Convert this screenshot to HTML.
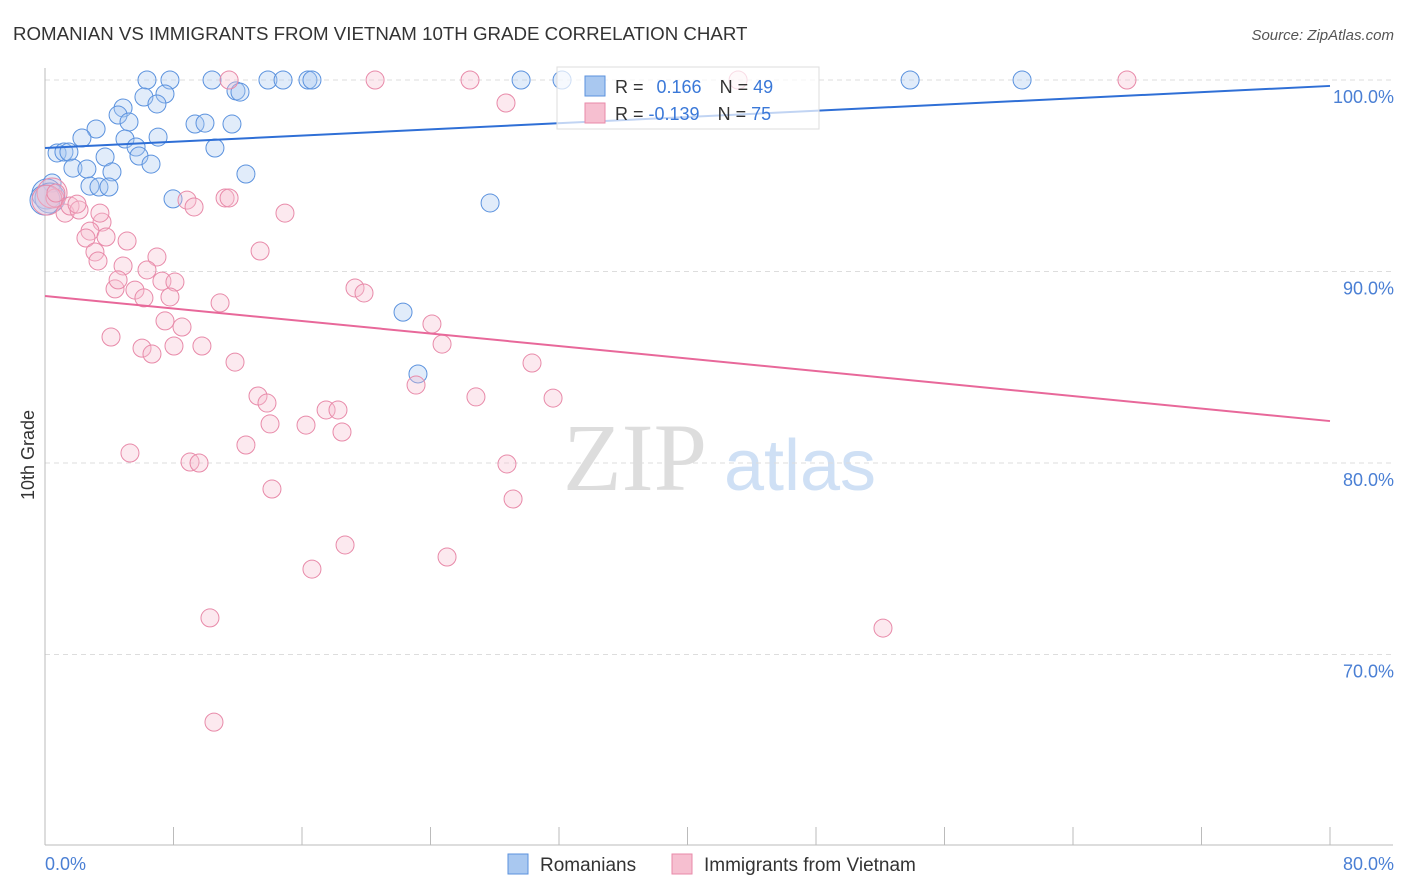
<!DOCTYPE html>
<html><head><meta charset="utf-8"><style>
body{margin:0;background:#fff;font-family:"Liberation Sans",sans-serif}
svg{display:block}
</style></head><body>
<svg width="1406" height="892" xmlns="http://www.w3.org/2000/svg">
<text x="13" y="40" font-size="18.7" fill="#333">ROMANIAN VS IMMIGRANTS FROM VIETNAM 10TH GRADE CORRELATION CHART</text>
<text x="1394" y="40" font-size="15" fill="#555" font-style="italic" text-anchor="end">Source: ZipAtlas.com</text>
<text x="635" y="490" font-size="96" fill="#ddd" text-anchor="middle" font-family="Liberation Serif,serif">ZIP</text>
<text x="800" y="490" font-size="72" fill="#cfe0f5" text-anchor="middle">atlas</text>
<g id="grid"></g>
<g id="axes"></g>
<g id="pts"></g>
<g id="trend"></g>
<text transform="translate(34,455) rotate(-90)" font-size="18" fill="#333" text-anchor="middle">10th Grade</text>
<text x="45" y="870" font-size="18" fill="#4a7fd4">0.0%</text>
<text x="1394" y="870" font-size="18" fill="#4a7fd4" text-anchor="end">80.0%</text>
<g>
<rect x="557" y="67" width="262" height="62" fill="#fff" fill-opacity="0.7" stroke="#ddd"/>
<rect x="585" y="76" width="20" height="20" fill="#a9c8f0" stroke="#5b92de"/>
<rect x="585" y="103" width="20" height="20" fill="#f6bfd0" stroke="#e88aa9"/>
<text x="615" y="93" font-size="18" fill="#333">R = <tspan fill="#3a78d8" dx="8">0.166</tspan><tspan dx="18" fill="#333">N = </tspan><tspan fill="#3a78d8">49</tspan></text>
<text x="615" y="120" font-size="18" fill="#333">R = <tspan fill="#3a78d8">-0.139</tspan><tspan dx="18" fill="#333">N = </tspan><tspan fill="#3a78d8">75</tspan></text>
</g>
<g>
<rect x="508" y="854" width="20" height="20" fill="#a9c8f0" stroke="#5b92de"/>
<text x="540" y="871" font-size="19" fill="#333">Romanians</text>
<rect x="672" y="854" width="20" height="20" fill="#f6bfd0" stroke="#e88aa9"/>
<text x="704" y="871" font-size="19" fill="#333">Immigrants from Vietnam</text>
</g>
</svg>
<script>
const blueX=[6.35,7.78,10.40,13.88,14.82,16.37,16.62,29.64,32.19,53.86,60.83,6.16,7.47,11.89,12.14,4.86,6.97,4.55,5.23,3.18,9.34,9.96,11.64,2.30,4.98,7.04,5.67,10.58,0.75,1.18,1.49,5.85,6.60,3.74,1.74,2.61,4.17,12.51,2.80,3.36,3.98,0.44,7.97,27.71,22.29,23.22,0.12,0.31,0];
const blueY=[100,100,100,100,100,100,100,100,100,100,100,99.11,99.27,99.43,99.37,98.54,98.75,98.17,97.81,97.44,97.70,97.75,97.70,96.97,96.92,97.02,96.50,96.45,96.19,96.24,96.24,96.03,95.61,95.98,95.40,95.35,95.20,95.09,94.46,94.41,94.41,94.62,93.79,93.58,87.88,84.65,94.05,93.84,93.73];
const pinkX=[11.46,20.55,26.46,43.15,67.36,28.70,0.44,0.62,0.12,1.25,1.56,2.12,1.99,3.55,2.80,2.55,3.80,5.11,3.11,3.30,4.86,6.97,6.35,4.36,4.55,5.60,6.16,7.28,8.09,7.78,10.90,7.47,8.53,8.84,9.28,11.21,11.46,14.94,13.39,19.30,19.86,24.09,24.72,4.11,6.04,6.66,8.03,9.77,11.83,30.32,13.26,13.82,14.01,16.25,17.50,18.24,18.49,23.10,26.83,31.63,5.29,9.03,9.59,12.51,14.13,28.76,29.14,18.68,16.62,25.03,10.27,52.17,10.52,0.68,3.42];
const pinkY=[100,100,100,100,100,98.80,94.10,93.84,93.73,93.05,93.42,93.21,93.52,92.58,92.11,91.75,91.80,91.59,91.02,90.55,90.29,90.76,90.08,89.09,89.56,89.03,88.62,89.50,89.45,88.67,88.36,87.42,87.10,93.73,93.37,93.84,93.84,93.05,91.07,89.14,88.88,87.26,86.21,86.58,86.00,85.69,86.11,86.11,85.27,85.22,83.50,83.13,82.04,81.98,82.77,82.77,81.62,84.07,83.45,83.39,80.52,80.05,80.00,80.94,78.64,79.95,78.12,75.72,74.46,75.09,71.91,71.38,66.47,94.10,93.05];
const yTicks=[100,90,80,70];
const yTickLabels=["100.0%","90.0%","80.0%","70.0%"];
const xTicks=[0,8,16,24,32,40,48,56,64,72,80];
const blueTrend=[96.45,99.69];
const pinkTrend=[88.72,82.19];
const NS="http://www.w3.org/2000/svg";
const sx=v=>45+v*16.0625, sy=v=>80+(100-v)*19.15;
function mk(tag,attrs,parent){const e=document.createElementNS(NS,tag);for(const k in attrs)e.setAttribute(k,attrs[k]);parent.appendChild(e);return e;}
const grid=document.getElementById('grid'),axes=document.getElementById('axes'),pts=document.getElementById('pts'),trend=document.getElementById('trend');
yTicks.forEach((t,i)=>{
 const l=mk('line',{x1:45,x2:1393,y1:sy(t),y2:sy(t),stroke:'#ddd','stroke-dasharray':'5,4'},grid);
 
 
 const tx=mk('text',{x:1394,y:sy(t)+23,'font-size':18,fill:'#4a7fd4','text-anchor':'end'},grid);
 tx.textContent=yTickLabels[i];
 
 
});
const ya=mk('line',{x1:45,x2:45,y1:68,y2:845,stroke:'#bbb'},axes);


const xa=mk('line',{x1:45,x2:1393,y1:845,y2:845,stroke:'#bbb'},axes);


xTicks.forEach(t=>{
 const l=mk('line',{x1:sx(t),x2:sx(t),y1:827,y2:845,stroke:'#bbb'},axes);
 
 
});
function dots(X,Y,fill,stroke,name){
 X.forEach((x,i)=>{
  const big=x<0.5&&Y[i]<94.2&&Y[i]>93.6;
  const c=mk('circle',{cx:sx(x),cy:sy(Y[i]),r:big?15:9,fill:fill,'fill-opacity':0.35,stroke:stroke,'stroke-width':1},pts);
  
  
 });
}
dots(blueX,blueY,'#a9c8f0','#5b92de','romanians-point');
dots(pinkX,pinkY,'#f6bfd0','#e88aa9','vietnam-point');
const bt=mk('line',{x1:sx(0),x2:sx(80),y1:sy(blueTrend[0]),y2:sy(blueTrend[1]),stroke:'#2f6fd6','stroke-width':2},trend);


const pt=mk('line',{x1:sx(0),x2:sx(80),y1:sy(pinkTrend[0]),y2:sy(pinkTrend[1]),stroke:'#e8689a','stroke-width':2},trend);


</script>
</body></html>
